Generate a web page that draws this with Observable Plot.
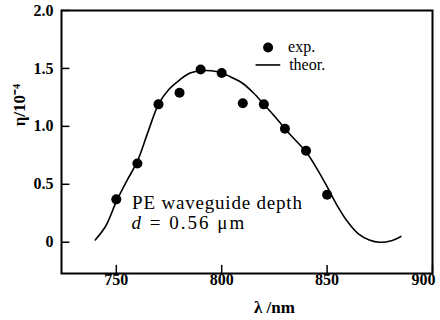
<!DOCTYPE html>
<html>
<head>
<meta charset="utf-8">
<script src="https://cdn.jsdelivr.net/npm/d3@7"></script>
<script src="https://cdn.jsdelivr.net/npm/@observablehq/plot@0.6"></script>
<style>
  html, body { margin: 0; padding: 0; background: #fff; }
  #chart svg { display: block; }
  #chart svg, #chart text, #chart tspan { font-family: 'Liberation Serif', serif !important; }
</style>
</head>
<body>
<div id="chart"></div>
<script>
// Experimental points
const expLambda = [750, 760, 770, 780, 790, 800, 810, 820, 830, 840, 850];
const expEta    = [0.37, 0.68, 1.19, 1.29, 1.49, 1.46, 1.20, 1.19, 0.98, 0.79, 0.41];

// Theoretical curve
const theoLambda = [740, 745, 750, 755, 760, 765, 770, 775, 780, 785, 790, 795, 800, 805, 810, 815, 820, 825, 830, 835, 840, 845, 850, 855, 860, 865, 870, 875, 880, 885];
const theoEta    = [0.02, 0.14, 0.35, 0.53, 0.70, 0.95, 1.19, 1.32, 1.40, 1.46, 1.48, 1.48, 1.46, 1.42, 1.37, 1.29, 1.19, 1.09, 0.98, 0.88, 0.78, 0.64, 0.48, 0.31, 0.17, 0.07, 0.02, 0.00, 0.01, 0.05];

// Axis ticks
const xTicks = [750, 800, 850, 900];
const xTickLabels = ["750", "800", "850", "900"];
const yTicks = [0, 0.5, 1.0, 1.5, 2.0];
const yTickLabels = ["0", "0.5", "1.0", "1.5", "2.0"];

// Legend and annotation texts
const legendLabels = ["exp.", "theor."];
const noteLine1 = "PE waveguide depth";
const noteLine2Var = "d";
const noteLine2Rest = " = 0.56 μm";
const xLabel = "λ /nm";
const yLabel = "η/10⁻⁴";

const xDomain = [724, 900];
const yDomain = [-0.27, 2.0];

const expData = expLambda.map((x, i) => ({x, y: expEta[i]}));
const theoData = theoLambda.map((x, i) => ({x, y: theoEta[i]}));
const xTickData = xTicks.map((x, i) => ({x, t: xTickLabels[i]}));

const serif = "Liberation Serif";

const plot = Plot.plot({
  width: 440,
  height: 320,
  marginLeft: 61,
  marginRight: 8,
  marginTop: 10,
  marginBottom: 47,
  style: {background: "#fff", color: "#000"},
  x: {domain: xDomain, axis: null},
  y: {domain: yDomain, axis: null},
  marks: [
    Plot.frame({stroke: "#000", strokeWidth: 2}),
    // x tick labels
    Plot.text(xTickData.slice(0, 3), {x: "x", text: "t", frameAnchor: "bottom", dy: 11, fontSize: 16, fontWeight: "bold", fontFamily: serif}),
    Plot.text(xTickData.slice(3), {x: "x", text: "t", frameAnchor: "bottom", dy: 11, dx: -9, fontSize: 16, fontWeight: "bold", fontFamily: serif}),
    // y tick labels
    Plot.text(yTicks, {y: d => d, text: (d, i) => yTickLabels[i], frameAnchor: "left", textAnchor: "end", dx: -8, fontSize: 16, fontWeight: "bold", fontFamily: serif}),
    // inward ticks
    Plot.ruleX(xTicks, {x: d => d, y1: yDomain[0], y2: yDomain[0] + 0.07, stroke: "#000", strokeWidth: 1.5}),
    Plot.ruleY(yTicks, {y: d => d, x1: xDomain[0], x2: xDomain[0] + 4, stroke: "#000", strokeWidth: 1.5}),
    // theory curve and experimental dots
    Plot.line(theoData, {x: "x", y: "y", curve: "catmull-rom", stroke: "#000", strokeWidth: 1.6}),
    Plot.dot(expData, {x: "x", y: "y", r: 5, fill: "#000"}),
    // legend
    Plot.dot([{x: 822, y: 1.68}], {x: "x", y: "y", r: 5, fill: "#000"}),
    Plot.text([{x: 831.5, y: 1.69}], {x: "x", y: "y", text: () => legendLabels[0], textAnchor: "start", fontSize: 16, fontFamily: serif}),
    Plot.ruleY([1.53], {y: d => d, x1: 816.3, x2: 828, stroke: "#000", strokeWidth: 1.6}),
    Plot.text([{x: 832, y: 1.53}], {x: "x", y: "y", text: () => legendLabels[1], textAnchor: "start", fontSize: 16, fontFamily: serif}),
    // annotation line 1
    Plot.text([{x: 757.5, y: 0.34}], {x: "x", y: "y", text: () => noteLine1, textAnchor: "start", fontSize: 19, fontFamily: serif}),
    // axis labels
    Plot.text([{x: 825}], {x: "x", text: () => xLabel, frameAnchor: "bottom", dy: 39, fontSize: 17, fontFamily: serif, fontWeight: "bold"}),
    Plot.text([{y: 1.0}], {y: "y", text: () => yLabel, frameAnchor: "left", dx: -42, rotate: -90, fontSize: 17, fontFamily: serif, fontWeight: "bold"})
  ]
});

document.getElementById("chart").appendChild(plot);
const svg = d3.select(plot);
svg.attr("font-family", serif);
svg.selectAll("text").filter(function() { return this.textContent === noteLine1; })
  .style("letter-spacing", "0.8px");

// annotation line 2 with italic d, positioned through the plot's scales
const xs = plot.scale("x"), ys = plot.scale("y");
const t = svg.append("text")
  .attr("x", xs.apply(757.5))
  .attr("y", ys.apply(0.16))
  .attr("dy", "0.32em")
  .attr("text-anchor", "start")
  .attr("font-size", 19)
  .attr("font-family", serif)
  .attr("fill", "#000")
  .style("letter-spacing", "2px");
t.append("tspan").attr("font-style", "italic").text(noteLine2Var);
t.append("tspan").text(noteLine2Rest);
</script>
</body>
</html>
